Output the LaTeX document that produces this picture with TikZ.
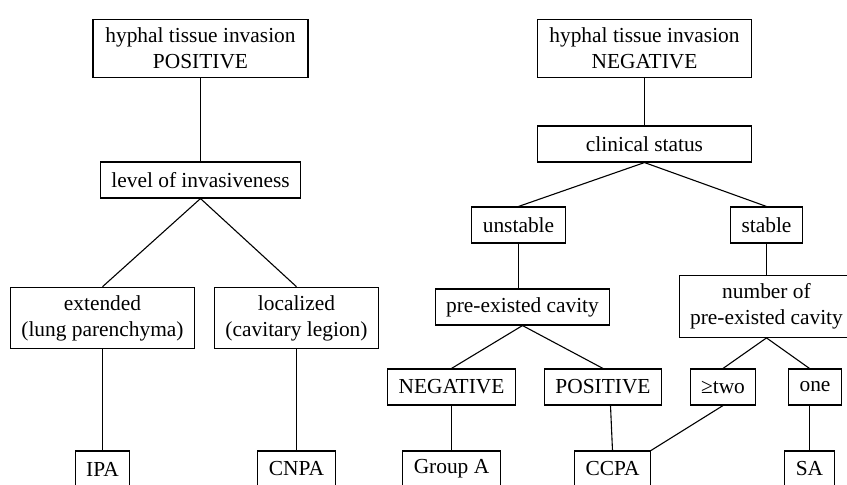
\documentclass[tikz,border=0pt]{standalone}
\usepackage{fontspec}
\setmainfont{Liberation Serif}
\usepackage{tikz}

\begin{document}
\begin{tikzpicture}[x=0.5pt,y=-0.5pt,line width=0.55pt,
font=\fontsize{10.7}{13}\selectfont]
\tikzstyle{box}=[draw=black,text=black,align=center,inner xsep=5.5pt,
inner ysep=4pt,minimum height=18pt]
\useasboundingbox (0,0) rectangle (847,484);
\clip (0,0) rectangle (847,484);
% positive branch
\node[box,minimum width=107.5pt] (hpos) at (200.5,48.5) {hyphal tissue invasion\\POSITIVE};
\node[box] (lvl) [below of=hpos,node distance=65.75pt] {level of invasiveness};
\node[box] (ext) [below of=lvl,node distance=69pt,xshift=-49pt] {extended\\(lung parenchyma)};
\node[box] (loc) [below of=lvl,node distance=69pt,xshift=48pt] {localized\\(cavitary legion)};
\node[box] (IPA) [below of=ext,node distance=75.5pt] {IPA};
\node[box] (CNPA) [below of=loc,node distance=75.5pt] {CNPA};
% negative branch
\node[box,minimum width=107pt] (hneg) at (644.5,48.5) {hyphal tissue invasion\\NEGATIVE};
\node[box,minimum width=107pt] (clin) [below of=hneg,node distance=47.75pt] {clinical status};
\node[box] (unst) [below of=clin,node distance=40.5pt,xshift=-63pt] {unstable};
\node[box] (stab) [below of=clin,node distance=40.5pt,xshift=61pt] {stable};
\node[box] (pre) [below of=unst,node distance=41pt,xshift=2pt] {pre-existed cavity};
\node[box] (num) [below of=stab,node distance=40.75pt] {number of\\pre-existed cavity};
\node[box] (negb) [below of=pre,node distance=40pt,xshift=-35.5pt] {NEGATIVE};
\node[box] (posb) [below of=pre,node distance=40pt,xshift=40.25pt] {POSITIVE};
\node[box] (two) [below of=num,node distance=40.25pt,xshift=-21.75pt] {≥two};
\node[box] (one) [below of=num,node distance=40.25pt,xshift=24.25pt] {one};
\node[box] (grpA) [below of=negb,node distance=41pt] {Group A};
\node[box] (CCPA) [below of=posb,node distance=41pt,xshift=4.75pt] {CCPA};
\node[box] (SA) [below of=one,node distance=41pt,xshift=-2.75pt] {SA};

\path (hpos) edge (lvl)
      (lvl.south) edge (ext.north)
                  edge (loc.north)
      (ext) edge (IPA)
      (loc) edge (CNPA)
      (hneg) edge (clin)
      (clin.south) edge (unst.north)
                   edge (stab.north)
      (unst.south) edge (unst.south |- pre.north)
      (stab) edge (num)
      (pre.south) edge (negb.north)
                  edge (posb.north)
      (num.south) edge (two.north)
                  edge (one.north -| SA.north)
      (negb.south) edge (grpA.north)
      ([xshift=-1pt]CCPA.north |- posb.south) edge (CCPA.north)
      (two.south) edge (CCPA.north east)
      (one.south -| SA.north) edge (SA.north);

\end{tikzpicture}
\end{document}
